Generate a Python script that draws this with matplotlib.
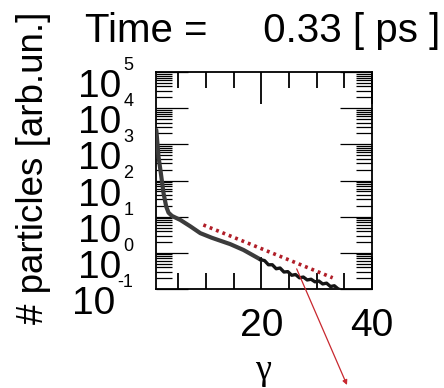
import matplotlib
matplotlib.use("Agg")
import matplotlib.pyplot as plt
import numpy as np

plt.rcParams['font.family'] = ['Liberation Sans', 'DejaVu Sans']

# particle spectrum (gamma vs counts)
gamma = [1.05, 1.16, 1.45, 1.88, 2.36, 2.84, 3.26, 3.88, 5.4, 7.2, 9.0, 11.1,
         14.4, 16.8, 19.9]
counts = [2500, 1620, 457, 158, 44.7, 19.1, 12.9, 10.5, 8.1, 5.4, 3.5, 2.6,
          1.74, 1.2, 0.65]

# noisy high-energy tail
tail_gamma = [19.9, 20.6, 21.3, 22.0, 22.7, 23.4, 24.1, 24.8, 25.5, 26.2,
              26.9, 27.6, 28.3, 29.0, 29.7, 30.4, 31.1, 31.8, 32.5, 33.2,
              33.9, 34.6]
tail_counts = [0.646, 0.610, 0.468, 0.468, 0.363, 0.380, 0.295, 0.302, 0.240,
               0.251, 0.204, 0.214, 0.178, 0.186, 0.158, 0.166, 0.138, 0.145,
               0.117, 0.123, 0.100, 0.093]

# exponential fit guide (red dotted)
fit_gamma = [9.55, 32.9]
fit_counts = [5.9, 0.204]

# annotation arrow: start on the curve, end below the axes (figure fraction)
arrow_start = (26.4, 0.36)
arrow_end = (347 / 444, 1 - 385 / 388)

y_powers = [-1, 0, 1, 2, 3, 4, 5]
x_major = [20, 40]
x_minor = [5, 10, 15, 25, 30, 35]

fig = plt.figure(figsize=(4.44, 3.88), dpi=100)
ax = fig.add_axes([156 / 444, 1 - 289 / 388, 216 / 444, 217 / 388])

ax.plot(gamma, counts, color='#3c3c3c', lw=3, solid_capstyle='round', zorder=3)
ax.plot(tail_gamma, tail_counts, color='#161616', lw=2.4, zorder=3)
ax.plot(fit_gamma, fit_counts, color='#b01e28', lw=2.6, linestyle=(0, (0.8, 1.1)), zorder=4)

ax.set_yscale('log')
ax.set_xlim(1, 40)
ax.set_ylim(1e-1, 1e5)

ax.xaxis.set_major_locator(matplotlib.ticker.FixedLocator(x_major))
ax.xaxis.set_minor_locator(matplotlib.ticker.FixedLocator(x_minor))
ax.xaxis.set_major_formatter(matplotlib.ticker.FixedFormatter([str(v) for v in x_major]))
ax.yaxis.set_major_locator(matplotlib.ticker.LogLocator(base=10, numticks=20))
ax.yaxis.set_minor_locator(matplotlib.ticker.LogLocator(base=10, subs=np.arange(2, 10), numticks=20))
ax.tick_params(which='both', direction='in', top=True, right=True, width=0.9,
               color='black', labelleft=False)
ax.tick_params(which='major', length=23, labelsize=28, pad=14)
ax.tick_params(which='minor', length=11.5)
ax.tick_params(axis='x', which='both', width=1.3)
for sp in ax.spines.values():
    sp.set_linewidth(1.3)

# y tick labels: big "10" with a small exponent, stacked like the original
ytrans = ax.get_yaxis_transform()
for p in y_powers:
    sup = ax.text(-0.105, 10.0 ** p, str(p), transform=ytrans, ha='right',
                  va='baseline', fontsize=13, clip_on=False)
    sup.set_transform(ytrans + matplotlib.transforms.ScaledTranslation(0, 1.5 / 72, fig.dpi_scale_trans))
    ax.annotate('10', xy=(0, 10.0 ** p), xycoords=(sup, ytrans),
                xytext=(-1.5, -18), textcoords='offset points',
                ha='right', va='baseline', fontsize=28, annotation_clip=False)

ax.set_xlabel('γ', fontsize=26, family=['Liberation Serif', 'DejaVu Serif'])
ax.xaxis.set_label_coords(0.497, -0.415)
ax.xaxis.label.set_va('baseline')

fig.text(34 / 444, 1 - 168 / 388, '# particles [arb.un.]', rotation=90,
         fontsize=26.5, ha='center', va='center')
fig.text(85 / 444, 1 - 42 / 388, 'Time =     0.33 [ ps ]', fontsize=29,
         ha='left', va='baseline')

ax.annotate('', xy=arrow_end, xycoords='figure fraction',
            xytext=arrow_start, textcoords='data',
            arrowprops=dict(arrowstyle='-|>', color='#c8282f', lw=0.9,
                            mutation_scale=7, shrinkA=0, shrinkB=0),
            annotation_clip=False)

fig.savefig('out.png', dpi=100)
